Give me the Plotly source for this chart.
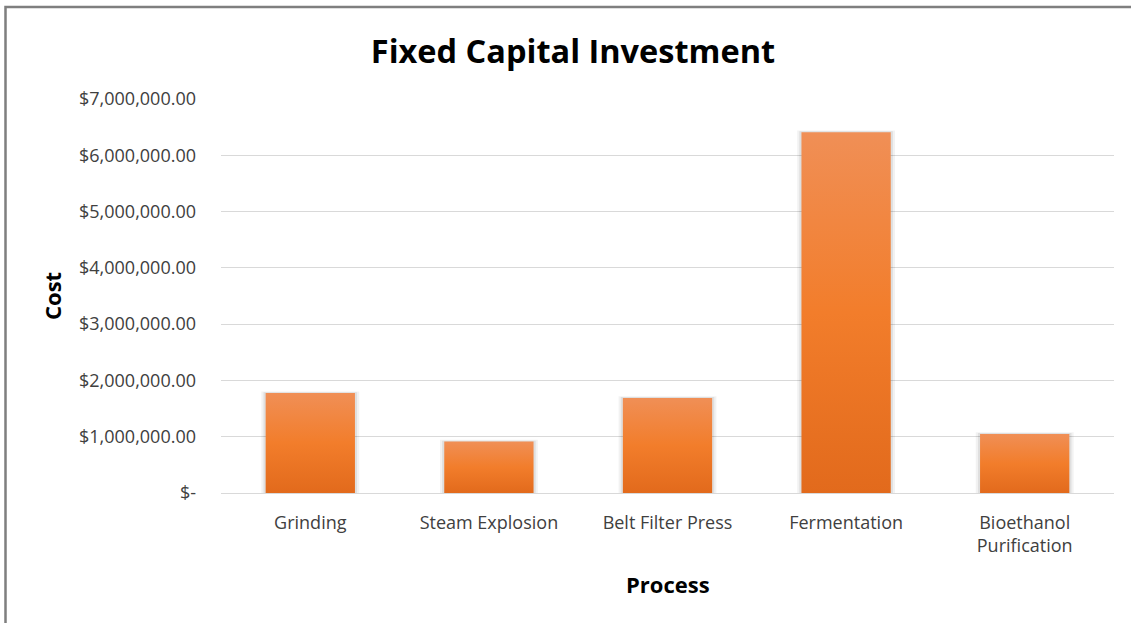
import plotly.graph_objects as go

# Fixed capital investment per process step (USD)
processes = ["Grinding", "Steam Explosion", "Belt Filter Press", "Fermentation",
             "Bioethanol<br>Purification"]
costs = [1775000, 915000, 1690000, 6410000, 1050000]

# y-axis ticks
tick_values = [0, 1000000, 2000000, 3000000, 4000000, 5000000, 6000000, 7000000]
tick_labels = ["$-", "$1,000,000.00", "$2,000,000.00", "$3,000,000.00",
               "$4,000,000.00", "$5,000,000.00", "$6,000,000.00", "$7,000,000.00"]

FONT = "Open Sans"
HALF = 0.25      # half bar width in category units
SHADOW = 0.012   # soft shadow spread around each bar

fig = go.Figure()

for i, (name, val) in enumerate(zip(processes, costs)):
    # soft shadow behind the bar
    for k, alpha in ((2.0, 0.05), (1.0, 0.08)):
        s = SHADOW * k
        fig.add_trace(go.Scatter(
            x=[i - HALF - s, i + HALF + s, i + HALF + s, i - HALF - s, i - HALF - s],
            y=[0, 0, val + 15000 * k, val + 15000 * k, 0],
            fill="toself", mode="none", fillcolor=f"rgba(0,0,0,{alpha})",
            hoverinfo="skip", showlegend=False,
        ))
    # the bar itself, with a vertical orange gradient
    fig.add_trace(go.Scatter(
        x=[i - HALF, i + HALF, i + HALF, i - HALF, i - HALF],
        y=[0, 0, val, val, 0],
        fill="toself", mode="none",
        fillgradient=dict(type="vertical",
                          colorscale=[[0, "#E26A1C"], [0.5, "#F27D2B"], [1, "#F08F56"]]),
        name=name.replace("<br>", " "),
        hovertemplate="%{text}<extra></extra>",
        text=[f"${val:,.2f}"] * 5,
        showlegend=False,
    ))

fig.update_layout(
    width=1131, height=623,
    margin=dict(l=221, r=17, t=99, b=130),
    paper_bgcolor="white", plot_bgcolor="white",
    font=dict(family=FONT, color="#404040", size=18),
    title=dict(text="<b>Fixed Capital Investment</b>", x=573 / 1131, xref="container",
               y=1 - 52 / 623, yanchor="middle", xanchor="center",
               font=dict(family=FONT, size=32.5, color="black")),
    xaxis=dict(range=[-0.5, 4.5], tickvals=list(range(len(processes))),
               ticktext=processes, showgrid=False, zeroline=False,
               showline=True, linecolor="#D9D9D9", linewidth=1,
               ticks="", ticklabelstandoff=13, fixedrange=True,
               tickfont=dict(size=18, color="#404040")),
    yaxis=dict(range=[0, 7000000], tickvals=tick_values, ticktext=tick_labels,
               showgrid=True, gridcolor="#D9D9D9", gridwidth=1, zeroline=False,
               showline=False, ticks="", ticklabelstandoff=24,
               tickfont=dict(size=18, color="#404040")),
    annotations=[
        dict(text="<b>Cost</b>", x=(52 - 221) / 893, y=0.5, xref="paper", yref="paper",
             textangle=-90, showarrow=False, xanchor="center", yanchor="middle",
             font=dict(family=FONT, size=22, color="black")),
        dict(text="<b>Process</b>", x=0.5, y=(493 - 584) / 394, xref="paper", yref="paper",
             showarrow=False, xanchor="center", yanchor="middle",
             font=dict(family=FONT, size=22, color="black")),
    ],
    shapes=[
        # chart frame (top and left edges)
        dict(type="path", xref="paper", yref="paper",
             path=f"M {(5.5 - 221) / 893},-0.5 L {(5.5 - 221) / 893},{(493 - 7) / 394} L 1.1,{(493 - 7) / 394}",
             line=dict(color="#7F7F7F", width=2.5)),
    ],
)

fig.write_html("out.html")
